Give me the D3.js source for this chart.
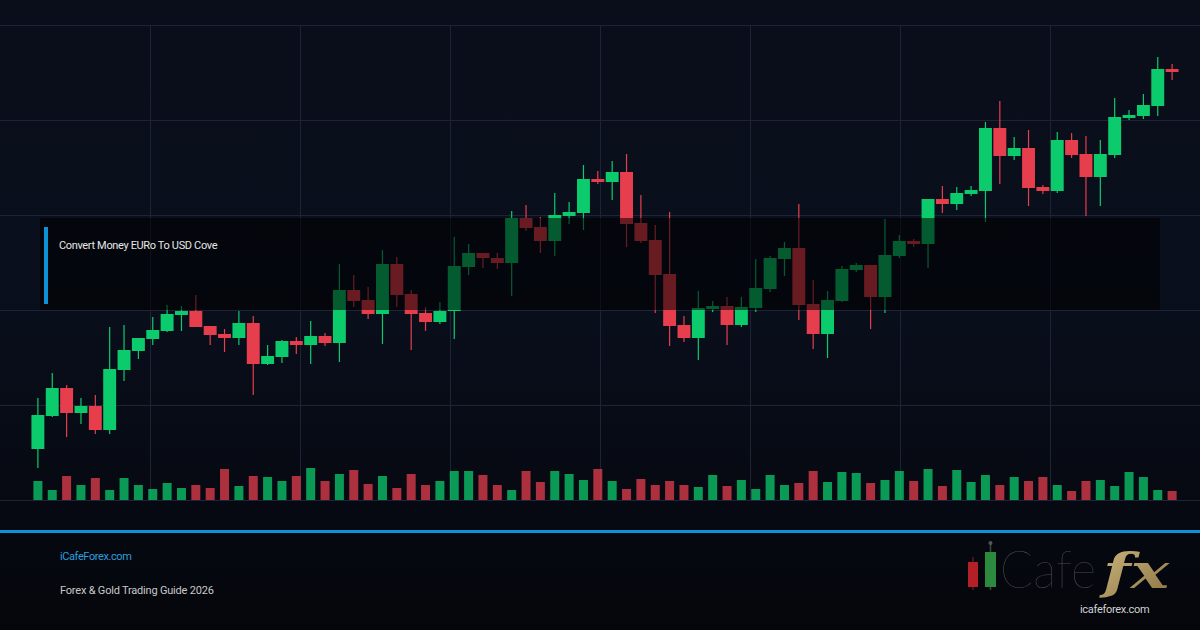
<!DOCTYPE html>
<html>
<head>
<meta charset="utf-8">
<script src="https://cdn.jsdelivr.net/npm/d3@7"></script>
<style>
  html, body { margin: 0; padding: 0; background: #05070c; }
  svg { display: block; }
</style>
</head>
<body>
<div id="chart"></div>
<script>
// candle data (EUR/USD style prices)
var opens = [1.0551, 1.0584, 1.0612, 1.0587, 1.0594, 1.0570, 1.0630, 1.0649, 1.0661, 1.0669,
  1.0685, 1.0689, 1.0674, 1.0666, 1.0662, 1.0677, 1.0636, 1.0643, 1.0659, 1.0655,
  1.0664, 1.0657, 1.0710, 1.0700, 1.0686, 1.0736, 1.0706, 1.0687, 1.0678, 1.0689,
  1.0733, 1.0747, 1.0742, 1.0737, 1.0782, 1.0773, 1.0759, 1.0784, 1.0787, 1.0821,
  1.0818, 1.0828, 1.0777, 1.0760, 1.0726, 1.0675, 1.0662, 1.0691, 1.0694, 1.0675,
  1.0692, 1.0711, 1.0741, 1.0752, 1.0696, 1.0666, 1.0699, 1.0730, 1.0735, 1.0703,
  1.0744, 1.0759, 1.0756, 1.0801, 1.0796, 1.0806, 1.0809, 1.0872, 1.0844, 1.0852,
  1.0813, 1.0809, 1.0860, 1.0846, 1.0823, 1.0845, 1.0882, 1.0884, 1.0894, 1.0931];
var highs = [1.0602, 1.0627, 1.0615, 1.0602, 1.0605, 1.0673, 1.0675, 1.0662, 1.0683, 1.0695,
  1.0694, 1.0705, 1.0674, 1.0671, 1.0689, 1.0684, 1.0655, 1.0660, 1.0663, 1.0679,
  1.0667, 1.0736, 1.0725, 1.0713, 1.0750, 1.0743, 1.0710, 1.0693, 1.0698, 1.0763,
  1.0756, 1.0747, 1.0747, 1.0789, 1.0795, 1.0783, 1.0807, 1.0798, 1.0835, 1.0829,
  1.0839, 1.0846, 1.0805, 1.0775, 1.0788, 1.0684, 1.0709, 1.0699, 1.0703, 1.0703,
  1.0741, 1.0744, 1.0758, 1.0796, 1.0720, 1.0709, 1.0734, 1.0737, 1.0735, 1.0781,
  1.0765, 1.0761, 1.0801, 1.0814, 1.0813, 1.0814, 1.0878, 1.0899, 1.0863, 1.0870,
  1.0815, 1.0868, 1.0867, 1.0864, 1.0860, 1.0902, 1.0890, 1.0906, 1.0943, 1.0936];
var lows = [1.0532, 1.0583, 1.0563, 1.0576, 1.0566, 1.0566, 1.0619, 1.0641, 1.0655, 1.0668,
  1.0669, 1.0673, 1.0655, 1.0648, 1.0655, 1.0605, 1.0635, 1.0637, 1.0646, 1.0636,
  1.0654, 1.0638, 1.0693, 1.0681, 1.0656, 1.0693, 1.0650, 1.0669, 1.0676, 1.0661,
  1.0725, 1.0732, 1.0731, 1.0704, 1.0769, 1.0747, 1.0744, 1.0776, 1.0770, 1.0816,
  1.0800, 1.0753, 1.0757, 1.0687, 1.0654, 1.0658, 1.0640, 1.0688, 1.0655, 1.0673,
  1.0688, 1.0708, 1.0724, 1.0680, 1.0651, 1.0642, 1.0698, 1.0728, 1.0671, 1.0687,
  1.0742, 1.0753, 1.0732, 1.0787, 1.0790, 1.0804, 1.0778, 1.0816, 1.0840, 1.0794,
  1.0806, 1.0807, 1.0842, 1.0784, 1.0794, 1.0842, 1.0880, 1.0881, 1.0884, 1.0920];
var closes = [1.0585, 1.0612, 1.0587, 1.0594, 1.0570, 1.0631, 1.0650, 1.0662, 1.0670, 1.0686,
  1.0689, 1.0673, 1.0665, 1.0662, 1.0677, 1.0636, 1.0644, 1.0659, 1.0655, 1.0664,
  1.0657, 1.0710, 1.0699, 1.0686, 1.0736, 1.0705, 1.0686, 1.0678, 1.0689, 1.0734,
  1.0747, 1.0742, 1.0737, 1.0782, 1.0772, 1.0759, 1.0785, 1.0788, 1.0821, 1.0818,
  1.0828, 1.0776, 1.0759, 1.0725, 1.0674, 1.0662, 1.0692, 1.0694, 1.0675, 1.0693,
  1.0712, 1.0742, 1.0752, 1.0695, 1.0666, 1.0700, 1.0731, 1.0735, 1.0703, 1.0745,
  1.0759, 1.0756, 1.0801, 1.0796, 1.0807, 1.0810, 1.0872, 1.0844, 1.0852, 1.0812,
  1.0809, 1.0860, 1.0845, 1.0823, 1.0846, 1.0883, 1.0885, 1.0895, 1.0931, 1.0928];
// volume, thousands
var volumes = [19, 10, 24, 15, 22, 10, 22, 15, 11, 17, 12, 15, 12, 31, 14, 24, 23, 19, 24, 32,
  19, 26, 30, 16, 24, 12, 26, 15, 19, 29, 29, 25, 15, 10, 29, 18, 29, 26, 20, 31,
  19, 11, 21, 15, 19, 15, 13, 25, 14, 20, 11, 25, 15, 17, 29, 18, 28, 27, 17, 20,
  29, 19, 31, 14, 30, 18, 25, 15, 23, 19, 23, 15, 9, 19, 20, 14, 28, 23, 10, 9];
var gridPrices = [1.0500, 1.0595, 1.0690, 1.0785, 1.0880, 1.0975];
var gridCols = [1, 2, 3, 4, 5, 6, 7];

var titleText = "Convert Money EURo To USD Cove";
var siteText = "iCafeForex.com";
var guideText = "Forex & Gold Trading Guide 2026";

var width = 1200, height = 630;
var up = "#0ccb6c", down = "#e63e4d", blue = "#0d93d5";

var svg = d3.select("#chart").append("svg")
  .attr("width", width)
  .attr("height", height);

var defs = svg.append("defs");
var bg = defs.append("linearGradient").attr("id", "bg")
  .attr("x1", 0).attr("y1", 0).attr("x2", 0).attr("y2", 1);
bg.append("stop").attr("offset", "0%").attr("stop-color", "#0a0e1a");
bg.append("stop").attr("offset", "45%").attr("stop-color", "#0a0f1d");
bg.append("stop").attr("offset", "100%").attr("stop-color", "#04060b");

var gold = defs.append("linearGradient").attr("id", "gold")
  .attr("x1", 0).attr("y1", 0).attr("x2", 1).attr("y2", 1);
gold.append("stop").attr("offset", "0%").attr("stop-color", "#cdb77f");
gold.append("stop").attr("offset", "100%").attr("stop-color", "#8c7443");

svg.append("rect")
  .attr("width", width).attr("height", height)
  .attr("fill", "url(#bg)");

// scales
var data = opens.map(function (o, i) {
  return { i: i, open: o, high: highs[i], low: lows[i], close: closes[i], vol: volumes[i] };
});

var x = d3.scaleBand()
  .domain(d3.range(data.length))
  .range([30, 1180])
  .padding(0.1);

var y = d3.scaleLinear()
  .domain([1.0500, 1.0975])
  .range([500, 25]);

var yVol = d3.scaleLinear()
  .domain([0, 40])
  .range([500, 460]);

var xGrid = d3.scaleLinear().domain([0, 8]).range([0, width]);

// grid
svg.append("g")
  .selectAll("line")
  .data(gridPrices)
  .enter().append("line")
  .attr("x1", 0).attr("x2", width)
  .attr("y1", function (d) { return Math.round(y(d)) + 0.5; })
  .attr("y2", function (d) { return Math.round(y(d)) + 0.5; })
  .attr("stroke", "#1d2436")
  .attr("stroke-width", 1);

svg.append("g")
  .selectAll("line")
  .data(gridCols)
  .enter().append("line")
  .attr("x1", function (d) { return xGrid(d) + 0.5; })
  .attr("x2", function (d) { return xGrid(d) + 0.5; })
  .attr("y1", y(1.0975)).attr("y2", y(1.0500))
  .attr("stroke", "#1d2436")
  .attr("stroke-width", 1);

// volume bars
var vw = 9;
svg.append("g")
  .selectAll("rect")
  .data(data)
  .enter().append("rect")
  .attr("x", function (d) { return x(d.i) + (x.bandwidth() - vw) / 2; })
  .attr("y", function (d) { return yVol(d.vol); })
  .attr("width", vw)
  .attr("height", function (d) { return yVol(0) - yVol(d.vol); })
  .attr("fill", function (d) { return d.close >= d.open ? up : down; })
  .attr("opacity", 0.75);

// candles
var candles = svg.append("g")
  .selectAll("g")
  .data(data)
  .enter().append("g");

candles.append("line")
  .attr("x1", function (d) { return x(d.i) + x.bandwidth() / 2; })
  .attr("x2", function (d) { return x(d.i) + x.bandwidth() / 2; })
  .attr("y1", function (d) { return y(d.high); })
  .attr("y2", function (d) { return y(d.low); })
  .attr("stroke", function (d) { return d.close >= d.open ? up : down; })
  .attr("stroke-width", 1.2);

candles.append("rect")
  .attr("x", function (d) { return x(d.i); })
  .attr("y", function (d) { return y(Math.max(d.open, d.close)); })
  .attr("width", x.bandwidth())
  .attr("height", function (d) { return Math.max(1, Math.abs(y(d.open) - y(d.close))); })
  .attr("fill", function (d) { return d.close >= d.open ? up : down; });

// title panel
svg.append("rect")
  .attr("x", 40).attr("y", 218)
  .attr("width", 1120).attr("height", 92)
  .attr("fill", "#000")
  .attr("opacity", 0.55);

svg.append("rect")
  .attr("x", 44).attr("y", 227)
  .attr("width", 4).attr("height", 77)
  .attr("fill", blue);

svg.append("text")
  .attr("x", 59).attr("y", 249)
  .attr("font-family", "Roboto, sans-serif")
  .attr("font-size", 11)
  .attr("letter-spacing", -0.35)
  .attr("fill", "#e6e6e6")
  .text(titleText);

// footer
svg.append("rect")
  .attr("x", 0).attr("y", 530)
  .attr("width", width).attr("height", 3)
  .attr("fill", blue);

svg.append("text")
  .attr("x", 60).attr("y", 560)
  .attr("font-family", "Roboto, sans-serif")
  .attr("font-size", 11)
  .attr("letter-spacing", -0.4)
  .attr("fill", "#2b9fdc")
  .text(siteText);

svg.append("text")
  .attr("x", 60).attr("y", 594)
  .attr("font-family", "Roboto, sans-serif")
  .attr("font-size", 11)
  .attr("letter-spacing", -0.2)
  .attr("fill", "#c9c9c9")
  .text(guideText);

// logo
var logo = svg.append("g");
logo.append("line").attr("x1", 973).attr("x2", 973).attr("y1", 557).attr("y2", 590)
  .attr("stroke", "#5a1a1c").attr("stroke-width", 1.5);
logo.append("rect").attr("x", 968).attr("y", 562).attr("width", 10).attr("height", 25)
  .attr("fill", "#b52027");
logo.append("line").attr("x1", 990.5).attr("x2", 990.5).attr("y1", 543).attr("y2", 590)
  .attr("stroke", "#3a4a3c").attr("stroke-width", 1.5);
logo.append("circle").attr("cx", 990.5).attr("cy", 543).attr("r", 2).attr("fill", "#555");
logo.append("rect").attr("x", 985).attr("y", 552).attr("width", 11).attr("height", 35)
  .attr("fill", "#2b8a3e");
logo.append("text")
  .attr("x", 1000).attr("y", 588)
  .attr("font-family", "Lato, 'Open Sans', sans-serif")
  .attr("font-weight", 100)
  .attr("font-size", 52)
  .attr("textLength", 96)
  .attr("lengthAdjust", "spacingAndGlyphs")
  .attr("fill", "#4e4e4e")
  .text("Cafe");
logo.append("text")
  .attr("x", 1103).attr("y", 588)
  .attr("font-family", "'DejaVu Serif', serif")
  .attr("font-style", "italic")
  .attr("font-weight", "bold")
  .attr("font-size", 48)
  .attr("textLength", 66)
  .attr("lengthAdjust", "spacingAndGlyphs")
  .attr("fill", "url(#gold)")
  .text("fx");
logo.append("text")
  .attr("x", 1080).attr("y", 613)
  .attr("font-family", "Roboto, sans-serif")
  .attr("font-size", 11)
  .attr("letter-spacing", -0.3)
  .attr("fill", "#d2d2d2")
  .text("icafeforex.com");
</script>
</body>
</html>
